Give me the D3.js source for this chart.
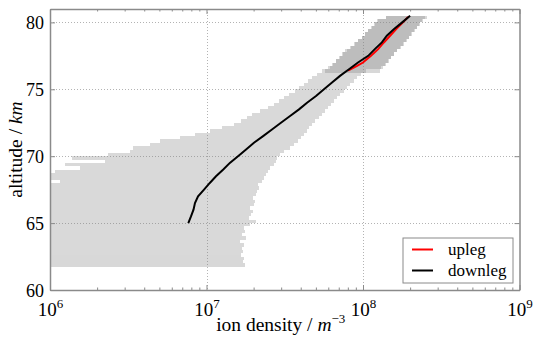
<!DOCTYPE html>
<html>
<head>
<meta charset="utf-8">
<script src="https://cdn.jsdelivr.net/npm/d3@7"></script>
<style>
  body { margin: 0; background: #fff; }
  svg { display: block; font-family: "Liberation Serif", serif; }
</style>
</head>
<body>
<figure id="ion-density" style="margin:0"></figure>
<script>
// Error bar rows (lower edge of each 0.25 km row)
const bandAlt = [61.75, 62, 62.25, 62.5, 62.75, 63, 63.25, 63.5, 63.75, 64, 64.25, 64.5, 64.75,
  65, 65.25, 65.5, 65.75, 66, 66.25, 66.5, 66.75, 67, 67.25, 67.5, 67.75, 68, 68.25, 68.5, 68.75,
  69, 69.25, 69.5, 69.75, 70, 70.25, 70.5, 70.75, 71, 71.25, 71.5, 71.75, 72, 72.25, 72.5, 72.75,
  73, 73.25, 73.5, 73.75, 74, 74.25, 74.5, 74.75, 75, 75.25, 75.5, 75.75, 76, 76.25, 76.5, 76.75,
  77, 77.25, 77.5, 77.75, 78, 78.25, 78.5, 78.75, 79, 79.25, 79.5, 79.75, 80, 80.25];

// Downleg error bars: lower / upper density (m^-3)
const downLow = [5e5, 5e5, 5e5, 5e5, 5e5, 5e5, 5e5, 5e5, 5e5, 5e5, 5e5, 5e5, 5e5,
  5e5, 5e5, 5e5, 5e5, 5e5, 5e5, 5e5, 5e5, 5e5, 5e5, 5e5, 5e5, 1.16e6, 5e5, 5e5, 1.08e6,
  1.55e6, 1.25e6, 2.25e6, 1.38e6, 2.35e6, 3.25e6, 3.39e6, 4.36e6, 5.05e6, 6.77e6, 8.44e6, 1.05e7, 1.26e7, 1.50e7, 1.66e7, 1.82e7,
  1.95e7, 2.20e7, 2.47e7, 2.70e7, 2.91e7, 3.13e7, 3.37e7, 3.68e7, 3.90e7, 4.20e7, 4.45e7, 4.72e7, 5.08e7, 5.47e7, 6.15e7, 6.43e7,
  6.72e7, 7.13e7, 7.45e7, 7.90e7, 8.38e7, 8.89e7, 9.29e7, 9.85e7, 1.03e8, 1.08e8, 1.13e8, 1.18e8, 1.23e8, 1.40e8];
const downHigh = [1.76e7, 1.71e7, 1.74e7, 1.66e7, 1.71e7, 1.69e7, 1.74e7, 1.64e7, 1.79e7, 1.69e7, 1.76e7, 1.74e7, 1.90e7,
  2.07e7, 1.87e7, 1.92e7, 1.98e7, 1.90e7, 2.01e7, 2.04e7, 1.98e7, 2.07e7, 2.10e7, 2.17e7, 2.13e7, 2.26e7, 2.33e7, 2.40e7, 2.47e7,
  2.55e7, 2.70e7, 2.78e7, 2.82e7, 2.95e7, 3.13e7, 3.42e7, 3.62e7, 3.84e7, 4.02e7, 4.20e7, 4.39e7, 4.52e7, 4.72e7, 4.94e7, 5.23e7,
  5.47e7, 5.72e7, 5.98e7, 6.25e7, 6.53e7, 6.82e7, 7.13e7, 7.56e7, 7.90e7, 8.26e7, 8.76e7, 9.16e7, 9.71e7, 1.045e8, 1.30e8, 1.38e8,
  1.44e8, 1.51e8, 1.58e8, 1.65e8, 1.72e8, 1.80e8, 1.88e8, 1.97e8, 2.03e8, 2.12e8, 2.21e8, 2.28e8, 2.38e8, 2.49e8];

// Upleg error bars
const upAlt = [76.25, 76.5, 76.75, 77, 77.25, 77.5, 77.75, 78, 78.25, 78.5, 78.75, 79, 79.25, 79.5, 79.75, 80, 80.25];
const upLow = [5.72e7, 5.98e7, 6.34e7, 6.72e7, 7.03e7, 7.34e7, 7.67e7, 8.26e7, 8.76e7, 9.29e7, 9.85e7, 1.03e8, 1.08e8, 1.14e8, 1.19e8, 1.25e8, 1.40e8];
const upHigh = [1.28e8, 1.34e8, 1.40e8, 1.47e8, 1.51e8, 1.58e8, 1.65e8, 1.75e8, 1.83e8, 1.91e8, 1.97e8, 2.06e8, 2.15e8, 2.22e8, 2.31e8, 2.42e8, 2.56e8];

// Mean profiles
const downlegAlt = [65, 65.5, 66, 66.5, 67, 67.5, 68, 68.5, 69, 69.5, 70, 70.5, 71, 71.5, 72, 72.5,
  73, 73.5, 74, 74.5, 75, 75.5, 76, 76.5, 77, 77.5, 78, 78.5, 79, 79.5, 80, 80.5];
const downlegDensity = [7.65e6, 7.96e6, 8.26e6, 8.44e6, 8.83e6, 9.64e6, 1.05e7, 1.15e7, 1.28e7, 1.41e7, 1.59e7, 1.79e7, 2.01e7, 2.30e7, 2.62e7, 2.99e7,
  3.42e7, 3.90e7, 4.39e7, 5.01e7, 5.63e7, 6.34e7, 7.13e7, 8.14e7, 9.29e7, 1.08e8, 1.19e8, 1.32e8, 1.42e8, 1.58e8, 1.78e8, 2.00e8];
const uplegAlt = [76.4, 76.75, 77, 77.5, 78, 78.5, 79, 79.5, 80, 80.4];
const uplegDensity = [8.02e7, 9.16e7, 1.00e8, 1.125e8, 1.25e8, 1.36e8, 1.49e8, 1.63e8, 1.80e8, 1.94e8];

const xTicks = [1e6, 1e7, 1e8, 1e9];
const yTicks = [60, 65, 70, 75, 80];
const legendLabels = ["upleg", "downleg"];

const width = 533, height = 338;
const plotLeft = 50, plotRight = 519.5, plotTop = 9, plotBottom = 290;
const frameColor = "#8a8a8a";

const svg = d3.select("figure#ion-density")
  .append("svg")
  .attr("width", width)
  .attr("height", height);

// Scales
const x = d3.scaleLog().domain([1e6, 1e9]).range([plotLeft, plotRight]);
const y = d3.scaleLinear().domain([60, 81]).range([plotBottom, plotTop]);

svg.append("clipPath").attr("id", "plot-clip")
  .append("rect")
  .attr("x", plotLeft).attr("y", plotTop)
  .attr("width", plotRight - plotLeft).attr("height", plotBottom - plotTop);

// Grid (dotted)
const grid = svg.append("g").attr("stroke", "#b4b4b4").attr("stroke-width", 1).attr("stroke-dasharray", "1,2");
grid.selectAll("line.gx").data(xTicks.slice(1, -1)).enter().append("line")
  .attr("x1", d => Math.round(x(d)) + 0.5).attr("x2", d => Math.round(x(d)) + 0.5)
  .attr("y1", plotTop).attr("y2", plotBottom);
grid.selectAll("line.gy").data(yTicks.slice(1)).enter().append("line")
  .attr("x1", plotLeft).attr("x2", plotRight)
  .attr("y1", d => Math.round(y(d)) + 0.5).attr("y2", d => Math.round(y(d)) + 0.5);

const plot = svg.append("g").attr("clip-path", "url(#plot-clip)");

// Error bars, each band composited as a whole
function drawBand(alts, lows, highs) {
  plot.append("g")
    .attr("opacity", 0.3)
    .selectAll("rect")
    .data(alts)
    .enter()
    .append("rect")
    .attr("shape-rendering", "crispEdges")
    .attr("fill", "#808080")
    .attr("x", (d, i) => x(lows[i]))
    .attr("y", d => y(d + 0.25))
    .attr("width", (d, i) => x(highs[i]) - x(lows[i]))
    .attr("height", d => y(d) - y(d + 0.25));
}
drawBand(bandAlt, downLow, downHigh);
drawBand(upAlt, upLow, upHigh);

// Profiles
const line = d3.line().x(d => x(d[1])).y(d => y(d[0]));
plot.append("path")
  .datum(uplegAlt.map((a, i) => [a, uplegDensity[i]]))
  .attr("fill", "none").attr("stroke", "#ff0000").attr("stroke-width", 2)
  .attr("d", line);
plot.append("path")
  .datum(downlegAlt.map((a, i) => [a, downlegDensity[i]]))
  .attr("fill", "none").attr("stroke", "#000").attr("stroke-width", 2)
  .attr("d", line);

// Axes: ticks point inward on all four sides
const minorTicks = x.ticks().filter(d => !xTicks.includes(d));
function styleAxis(g) {
  g.select(".domain").attr("stroke", frameColor).attr("stroke-width", 1.5);
  g.selectAll(".tick line").attr("stroke", frameColor).attr("stroke-width", 1);
}
svg.append("g").attr("transform", `translate(0,${plotBottom})`)
  .call(d3.axisBottom(x).tickValues(minorTicks).tickSize(-2.5).tickFormat(""))
  .call(g => g.select(".domain").remove())
  .call(styleAxis);
svg.append("g").attr("transform", `translate(0,${plotTop})`)
  .call(d3.axisTop(x).tickValues(minorTicks).tickSize(-2.5).tickFormat(""))
  .call(g => g.select(".domain").remove())
  .call(styleAxis);
svg.append("g").attr("transform", `translate(0,${plotTop})`)
  .call(d3.axisTop(x).tickValues(xTicks).tickSizeInner(-5).tickSizeOuter(0).tickFormat(""))
  .call(styleAxis);
svg.append("g").attr("transform", `translate(${plotRight},0)`)
  .call(d3.axisRight(y).tickValues(yTicks).tickSizeInner(-5).tickSizeOuter(0).tickFormat(""))
  .call(styleAxis);

const xAxis = svg.append("g").attr("transform", `translate(0,${plotBottom})`)
  .call(d3.axisBottom(x).tickValues(xTicks).tickSizeInner(-5).tickSizeOuter(0).tickPadding(13).tickFormat(""))
  .call(styleAxis);
const xLabels = xAxis.selectAll(".tick text")
  .attr("fill", "#000").attr("font-size", 19).attr("font-family", "Liberation Serif, serif");
xLabels.append("tspan").text("10");
xLabels.append("tspan").attr("dy", -8).attr("font-size", 13)
  .text(d => Math.round(Math.log10(d)));

svg.append("g").attr("transform", `translate(${plotLeft},0)`)
  .call(d3.axisLeft(y).tickValues(yTicks).tickSizeInner(-5).tickSizeOuter(0).tickPadding(6))
  .call(styleAxis)
  .selectAll(".tick text")
  .attr("fill", "#000").attr("font-size", 18).attr("font-family", "Liberation Serif, serif")
  .attr("dy", "0.36em");

// Axis titles
const xTitle = svg.append("text")
  .attr("x", (plotLeft + plotRight) / 2 - 4).attr("y", 331)
  .attr("text-anchor", "middle").attr("font-size", 19.5);
xTitle.append("tspan").text("ion density / ");
xTitle.append("tspan").attr("font-style", "italic").text("m");
xTitle.append("tspan").attr("dy", -8).attr("font-size", 13).text("\u22123");

const yTitle = svg.append("text")
  .attr("transform", `translate(22,${(plotTop + plotBottom) / 2}) rotate(-90)`)
  .attr("text-anchor", "middle").attr("font-size", 19.5);
yTitle.append("tspan").text("altitude / ");
yTitle.append("tspan").attr("font-style", "italic").text("km");

// Legend
const legend = svg.append("g").attr("transform", "translate(403,238)");
legend.append("rect")
  .attr("width", 110).attr("height", 45)
  .attr("fill", "#fff").attr("stroke", frameColor).attr("stroke-width", 1);
const legendColors = ["#ff0000", "#000"];
legend.selectAll("g.item").data(legendLabels).enter().append("g")
  .attr("transform", (d, i) => `translate(0,${11.5 + i * 21})`)
  .each(function (d, i) {
    const g = d3.select(this);
    g.append("line").attr("x1", 9).attr("x2", 30)
      .attr("stroke", legendColors[i]).attr("stroke-width", 2);
    g.append("text").attr("x", 45).attr("dy", "0.32em")
      .attr("font-size", 17).text(d);
  });
</script>
</body>
</html>
